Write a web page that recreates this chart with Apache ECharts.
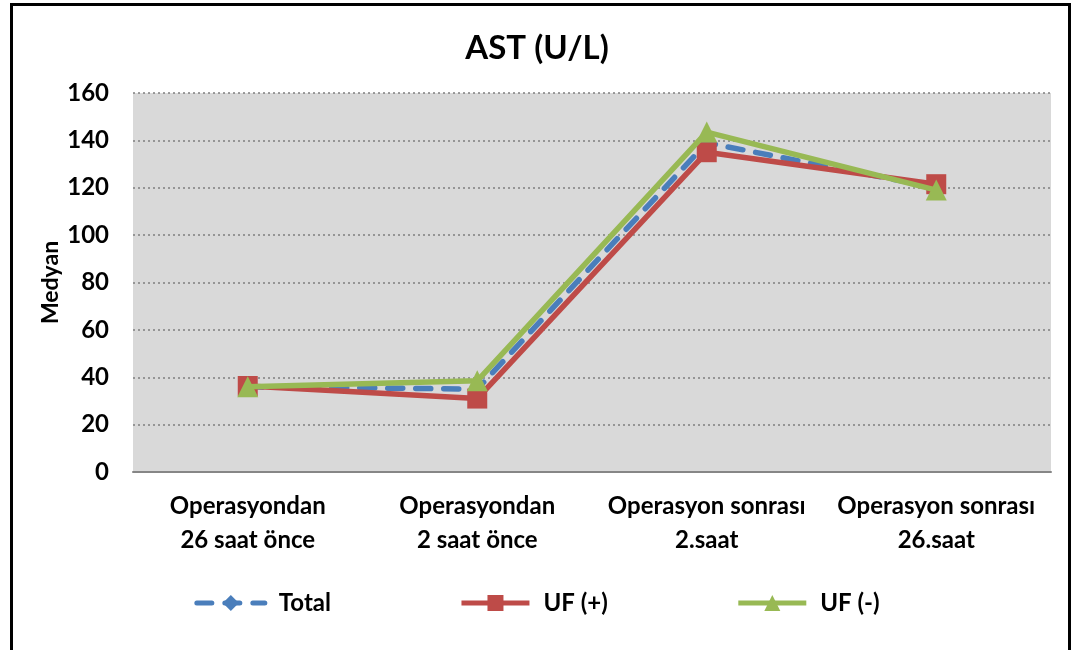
<!DOCTYPE html>
<html>
<head>
<meta charset="utf-8">
<script src="https://cdn.jsdelivr.net/npm/echarts@6/dist/echarts.min.js"></script>
<style>
  html, body { margin: 0; padding: 0; background: #fff; }
  #frame {
    position: absolute; left: 10px; top: 3px;
    width: 1061px; height: 660px;
    border: 3px solid #000; box-sizing: border-box;
  }
  #chart { position: absolute; left: 0; top: 0; width: 1074px; height: 650px; }
</style>
</head>
<body>
<div id="frame"></div>
<div id="chart"></div>
<script>
const categories = [
  'Operasyondan\n26 saat önce',
  'Operasyondan\n2 saat önce',
  'Operasyon sonrası\n2.saat',
  'Operasyon sonrası\n26.saat'
]
const totalValues = [36, 35, 139, 120]
const ufPlusValues = [36.3, 31, 135, 121.5]
const ufMinusValues = [36, 38.5, 143.5, 119]

const FONT = 'Lato, "Open Sans", sans-serif'

var myChart = echarts.init(document.getElementById('chart'), null, { renderer: 'canvas' })

var option = {
  animation: false,
  title: {
    text: 'AST (U/L)',
    left: 'center',
    top: 27,
    textStyle: { color: '#000', fontSize: 33, fontWeight: 'bold', fontFamily: FONT }
  },
  legend: {
    bottom: 30,
    left: 'center',
    itemGap: 128,
    itemWidth: 68,
    itemHeight: 20,
    lineStyle: { width: 5 },
    textStyle: {
      color: '#000', fontSize: 24, fontWeight: 'bold', fontFamily: FONT,
      padding: [0, 0, 0, 9]
    },
    data: ['Total', 'UF (+)', 'UF (-)']
  },
  grid: {
    left: 133,
    right: 23,
    top: 93,
    bottom: 178,
    show: true,
    backgroundColor: '#d9d9d9',
    borderWidth: 0
  },
  xAxis: {
    type: 'category',
    data: categories,
    boundaryGap: true,
    axisLine: { show: true, lineStyle: { color: '#868686', width: 2 } },
    axisTick: { show: false },
    axisLabel: {
      interval: 0,
      margin: 17,
      lineHeight: 34,
      color: '#000',
      fontSize: 24,
      fontWeight: 'bold',
      fontFamily: FONT
    }
  },
  yAxis: {
    type: 'value',
    min: 0,
    max: 160,
    interval: 20,
    name: 'Medyan',
    nameLocation: 'middle',
    nameGap: 71,
    nameMoveOverlap: false,
    nameTextStyle: { color: '#000', fontSize: 23, fontWeight: 'bold', fontFamily: FONT },
    axisLine: { show: false },
    axisTick: { show: false },
    axisLabel: {
      margin: 24,
      color: '#000',
      fontSize: 24,
      fontWeight: 'bold',
      fontFamily: FONT
    },
    splitLine: {
      show: true,
      lineStyle: { color: '#7f7f7f', type: [2, 3], width: 1.5 }
    }
  },
  series: [
    {
      name: 'Total',
      type: 'line',
      data: totalValues,
      symbol: 'diamond',
      symbolSize: 18,
      z: 2,
      lineStyle: { color: '#4a7ebb', width: 5.5, type: [15, 13], cap: 'round' },
      itemStyle: { color: '#4a7ebb' }
    },
    {
      name: 'UF (+)',
      type: 'line',
      data: ufPlusValues,
      symbol: 'rect',
      symbolSize: 20,
      z: 3,
      lineStyle: { color: '#be4b48', width: 5.5 },
      itemStyle: { color: '#be4b48' }
    },
    {
      name: 'UF (-)',
      type: 'line',
      data: ufMinusValues,
      symbol: 'triangle',
      symbolSize: 21,
      z: 4,
      lineStyle: { color: '#98b954', width: 5.5 },
      itemStyle: { color: '#98b954' }
    }
  ]
}

myChart.setOption(option, true)
</script>
</body>
</html>
